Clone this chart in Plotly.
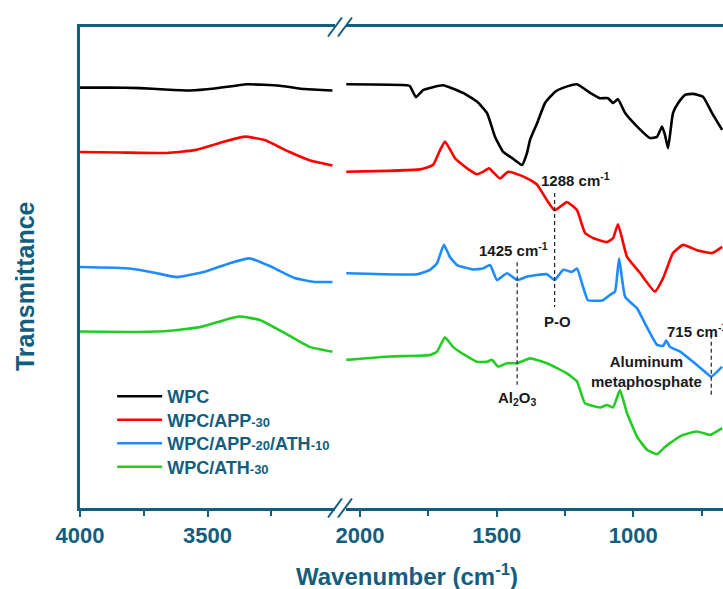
import plotly.graph_objects as go

AXIS = "#135E7E"
FONT = "Liberation Sans, Arial, sans-serif"


def small(s):
    return "<span style='font-size:13px'>" + s + "</span>"


SERIES = ["WPC", "WPC/APP" + small("-30"),
          "WPC/APP" + small("-20") + "/ATH" + small("-10"), "WPC/ATH" + small("-30")]
COLORS = ["#000000", "#FF0000", "#1E8CFF", "#22CC22"]

# ---- high-wavenumber segment (4000-3000 cm-1), transmittance in a.u. ----
wpc_hi_wn = [4000, 3883, 3765, 3667, 3569, 3472, 3346, 3217, 3119, 3010]
wpc_hi_t = [87.4, 87.4, 87.3, 87.0, 86.8, 87.2, 88.1, 87.8, 87.1, 86.8]

app_hi_wn = [4000, 3843, 3659, 3550, 3452, 3354, 3276, 3178, 3100, 3010]
app_hi_t = [74.0, 73.9, 73.8, 74.4, 75.9, 77.2, 76.5, 74.0, 72.3, 71.2]

mix_hi_wn = [4000, 3804, 3706, 3620, 3511, 3413, 3335, 3256, 3158, 3080, 3010]
mix_hi_t = [50.1, 49.8, 48.9, 48.0, 49.1, 50.9, 51.9, 50.3, 47.8, 47.0, 47.0]

ath_hi_wn = [4000, 3804, 3659, 3530, 3432, 3374, 3295, 3198, 3100, 3010]
ath_hi_t = [36.7, 36.6, 36.8, 37.6, 39.1, 39.8, 39.1, 36.4, 33.5, 32.5]

# ---- fingerprint segment (2050-675 cm-1) ----
wpc_lo_wn = [2050, 1828, 1817, 1795, 1769, 1696, 1623, 1572, 1535, 1506, 1477,
             1440, 1407, 1389, 1378, 1352, 1323, 1287, 1250, 1206, 1158, 1122,
             1093, 1074, 1056, 1030, 986, 939, 913, 895, 884, 873, 855, 836,
             811, 782, 745, 712, 675]
wpc_lo_t = [88.1, 87.9, 87.7, 85.4, 86.9, 87.9, 86.3, 84.5, 82.1, 77.2, 74.1,
            72.6, 71.3, 73.8, 76.5, 80.0, 84.2, 86.5, 87.5, 88.1, 86.3, 85.2,
            85.2, 84.2, 85.0, 82.1, 79.3, 76.9, 77.2, 79.3, 77.5, 74.8, 82.1, 84.2,
            85.9, 86.1, 85.5, 82.1, 78.6]

app_lo_wn = [2050, 1780, 1733, 1707, 1689, 1652, 1608, 1572, 1550, 1528, 1488,
             1458, 1415, 1378, 1352, 1316, 1288, 1243, 1206, 1177, 1147, 1096,
             1074, 1056, 1023, 976, 921, 891, 855, 818, 767, 712, 675]
app_lo_t = [69.9, 70.4, 71.3, 74.4, 76.2, 72.7, 70.6, 69.4, 69.9, 70.6, 68.5,
            69.9, 69.2, 68.2, 67.2, 64.0, 61.9, 63.6, 61.9, 57.2, 56.1, 55.3,
            56.1, 59.0, 52.2, 48.9, 45.0, 47.8, 53.0, 54.7, 53.6, 53.0, 54.3]

mix_lo_wn = [2050, 1791, 1744, 1718, 1693, 1671, 1645, 1587, 1550, 1524, 1499,
             1462, 1425, 1389, 1316, 1288, 1257, 1224, 1206, 1184, 1166, 1111,
             1085, 1067, 1052, 1030, 986, 964, 913, 891, 880, 866, 829, 782,
             738, 715, 675]
mix_lo_t = [48.8, 48.6, 49.5, 50.9, 54.7, 52.2, 50.5, 49.6, 49.8, 50.5, 47.4,
            48.8, 47.4, 48.1, 48.6, 47.4, 49.5, 49.1, 49.8, 46.0, 43.2, 43.2,
            44.3, 45.0, 51.9, 43.9, 41.5, 39.1, 33.9, 33.7, 34.8, 33.5, 32.5, 30.4,
            28.3, 27.3, 29.4]

ath_lo_wn = [2050, 1890, 1744, 1718, 1689, 1660, 1608, 1572, 1535, 1517, 1495,
             1462, 1425, 1378, 1316, 1243, 1206, 1177, 1122, 1096, 1074, 1049,
             1023, 986, 950, 913, 884, 866, 818, 767, 719, 675]
ath_lo_t = [30.8, 31.5, 31.8, 32.5, 35.5, 33.5, 31.5, 30.4, 30.4, 30.8, 29.4,
            30.1, 30.1, 31.1, 30.1, 28.0, 26.3, 21.8, 20.9, 21.4, 20.9, 24.5,
            19.7, 14.8, 12.1, 11.2, 12.7, 13.5, 15.2, 15.9, 15.2, 16.6]

HI = [(wpc_hi_wn, wpc_hi_t), (app_hi_wn, app_hi_t),
      (mix_hi_wn, mix_hi_t), (ath_hi_wn, ath_hi_t)]
LO = [(wpc_lo_wn, wpc_lo_t), (app_lo_wn, app_lo_t),
      (mix_lo_wn, mix_lo_t), (ath_lo_wn, ath_lo_t)]

# marked bands: wavenumber and dashed-line span (a.u.)
band_wn = [1288, 1425, 715]
band_span = [(65.5, 41.8), (51.1, 25.6), (36.0, 23.1)]

# one legend box per series so the rows sit closely stacked
LEGEND_IDS = ["legend", "legend2", "legend3", "legend4"]
LEGEND_TOPS = [0.2703, 0.2214, 0.1726, 0.1237]

fig = go.Figure()
for name, color, lg, (wn, t) in zip(SERIES, COLORS, LEGEND_IDS, HI):
    fig.add_trace(go.Scatter(x=wn, y=t, mode="lines", name=name, legend=lg,
                             line=dict(color=color, width=2.6, shape="spline", smoothing=0.4),
                             xaxis="x", yaxis="y"))
for name, color, (wn, t) in zip(SERIES, COLORS, LO):
    fig.add_trace(go.Scatter(x=wn, y=t, mode="lines", name=name, showlegend=False,
                             line=dict(color=color, width=2.6, shape="spline", smoothing=0.4),
                             xaxis="x2", yaxis="y2"))

tick_font = dict(family=FONT, size=22, color=AXIS, weight="bold")
common_x = dict(showline=True, linecolor=AXIS, linewidth=2.6, mirror=True,
                ticks="outside", ticklen=6, tickwidth=2, tickcolor=AXIS,
                tickfont=tick_font, showgrid=False, zeroline=False, tickmode="array")

fig.update_layout(
    width=723, height=589,
    margin=dict(l=80, r=0, t=27, b=81),
    paper_bgcolor="white", plot_bgcolor="white",
    xaxis=dict(domain=[0, 0.3966], range=[4000, 3000],
               tickvals=[4000, 3500], ticktext=["4000", "3500"],
               minor=dict(tickvals=[3750, 3250], ticklen=5, tickwidth=2,
                          tickcolor=AXIS, ticks="outside"),
               **common_x),
    xaxis2=dict(domain=[0.4137, 1], range=[2051, 672],
                tickvals=[2000, 1500, 1000], ticktext=["2000", "1500", "1000"],
                minor=dict(tickvals=[1750, 1250, 750], ticklen=5, tickwidth=2,
                           tickcolor=AXIS, ticks="outside"),
                anchor="y2", **common_x),
    yaxis=dict(range=[0, 100], showline=True, linecolor=AXIS, linewidth=2.6,
               showticklabels=False, ticks="", showgrid=False, zeroline=False),
    yaxis2=dict(range=[0, 100], anchor="x2", showline=False,
                showticklabels=False, ticks="", showgrid=False, zeroline=False),
    showlegend=True,
)
for lg, top in zip(LEGEND_IDS, LEGEND_TOPS):
    fig.update_layout({lg: dict(x=0.05, y=top, xanchor="left", yanchor="top",
                                bgcolor="rgba(0,0,0,0)", itemwidth=45,
                                font=dict(family=FONT, size=18, color=AXIS, weight="bold"))})

# axis titles
fig.add_annotation(text="Wavenumber (cm<sup>-1</sup>)", xref="paper", yref="paper",
                   x=0.5086, y=-0.139, xanchor="center", yanchor="middle", showarrow=False,
                   font=dict(family=FONT, size=24, color=AXIS, weight="bold"))
fig.add_annotation(text="Transmittance", xref="paper", yref="paper",
                   x=-0.0855, y=0.4615, xanchor="center", yanchor="middle", showarrow=False,
                   textangle=-90,
                   font=dict(family=FONT, size=25, color=AXIS, weight="bold"))

# dashed band markers
for wn, (y0, y1) in zip(band_wn, band_span):
    fig.add_shape(type="line", xref="x2", yref="y2", x0=wn, x1=wn, y0=y0, y1=y1,
                  line=dict(color="#222222", width=1.2, dash="4px,3px"))

lab_font = dict(family=FONT, size=15, color="#1a1a1a", weight="bold")
labels = [
    ("1288 cm<sup>-1</sup>", 1213, 68.2, "center"),
    ("1425 cm<sup>-1</sup>", 1440, 53.8, "center"),
    ("P-O", 1279, 38.7, "center"),
    ("Al<sub>2</sub>O<sub>3</sub>", 1422, 22.7, "center"),
    ("715 cm<sup>-1</sup>", 884, 36.8, "left"),
    ("Aluminum<br>metaphosphate", 953, 28.4, "center"),
]
for text, x, y, anchor in labels:
    fig.add_annotation(text=text, xref="x2", yref="y2", x=x, y=y, xanchor=anchor,
                       yanchor="middle", showarrow=False, font=lab_font)


# axis break marks
def px(x):
    return (x - 80) / 643


def py(y):
    return (508 - y) / 481


for yc in (508, 27):
    for x0 in (328, 338):
        fig.add_shape(type="line", xref="paper", yref="paper",
                      x0=px(x0), y0=py(yc + 9.5), x1=px(x0 + 14), y1=py(yc - 9.5),
                      line=dict(color=AXIS, width=2))

fig.write_html("out.html")
